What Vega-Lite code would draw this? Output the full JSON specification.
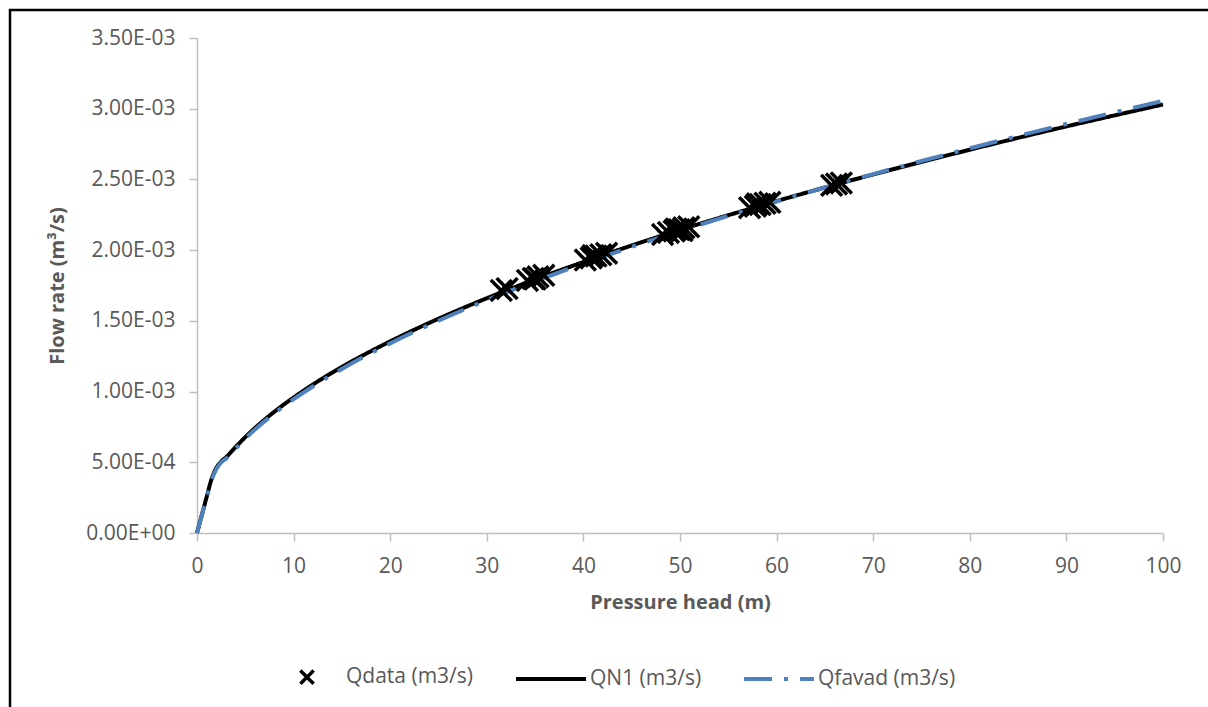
{
  "$schema": "https://vega.github.io/schema/vega-lite/v6.json",
  "usermeta": {"embedOptions": {"actions": false}},
  "width": 1205,
  "height": 705,
  "autosize": {"type": "none"},
  "padding": {"left": 10, "top": 10, "right": 0, "bottom": 0},
  "background": "white",
  "config": {
    "font": "Open Sans",
    "view": {"stroke": "black", "strokeWidth": 2.5},
    "axis": {
      "grid": false,
      "domainColor": "#bfbfbf",
      "domainWidth": 1.5,
      "tickColor": "#bfbfbf",
      "tickWidth": 1.5,
      "tickSize": 8,
      "labelFont": "Open Sans",
      "labelFontSize": 21,
      "labelColor": "#595959",
      "titleFont": "Open Sans",
      "titleFontSize": 20,
      "titleFontWeight": "bold",
      "titleColor": "#595959"
    },
    "legend": {
      "orient": "none",
      "legendX": 260,
      "legendY": 630,
      "direction": "horizontal",
      "columns": 3,
      "padding": 0,
      "columnPadding": 34,
      "labelFont": "Open Sans",
      "labelFontSize": 21,
      "labelColor": "#595959",
      "labelOffset": 2,
      "symbolSize": 4900,
      "symbolFillColor": "transparent",
      "title": null
    }
  },
  "datasets": {
    "qn1": [
      {"h": 0, "q": 0, "series": "QN1 (m3/s)"},
      {"h": 0.5, "q": 0.000128, "series": "QN1 (m3/s)"},
      {"h": 1, "q": 0.000255, "series": "QN1 (m3/s)"},
      {"h": 1.5, "q": 0.00038, "series": "QN1 (m3/s)"},
      {"h": 2, "q": 0.00046, "series": "QN1 (m3/s)"},
      {"h": 2.5, "q": 0.000505, "series": "QN1 (m3/s)"},
      {"h": 3, "q": 0.000535, "series": "QN1 (m3/s)"},
      {"h": 4, "q": 0.000608, "series": "QN1 (m3/s)"},
      {"h": 5, "q": 0.000678, "series": "QN1 (m3/s)"},
      {"h": 6, "q": 0.000742, "series": "QN1 (m3/s)"},
      {"h": 8, "q": 0.000857, "series": "QN1 (m3/s)"},
      {"h": 10, "q": 0.000958, "series": "QN1 (m3/s)"},
      {"h": 12, "q": 0.00105, "series": "QN1 (m3/s)"},
      {"h": 15, "q": 0.001174, "series": "QN1 (m3/s)"},
      {"h": 20, "q": 0.001355, "series": "QN1 (m3/s)"},
      {"h": 25, "q": 0.001515, "series": "QN1 (m3/s)"},
      {"h": 30, "q": 0.00166, "series": "QN1 (m3/s)"},
      {"h": 35, "q": 0.001793, "series": "QN1 (m3/s)"},
      {"h": 40, "q": 0.001916, "series": "QN1 (m3/s)"},
      {"h": 45, "q": 0.002033, "series": "QN1 (m3/s)"},
      {"h": 50, "q": 0.002143, "series": "QN1 (m3/s)"},
      {"h": 55, "q": 0.002247, "series": "QN1 (m3/s)"},
      {"h": 60, "q": 0.002347, "series": "QN1 (m3/s)"},
      {"h": 65, "q": 0.002443, "series": "QN1 (m3/s)"},
      {"h": 70, "q": 0.002535, "series": "QN1 (m3/s)"},
      {"h": 75, "q": 0.002624, "series": "QN1 (m3/s)"},
      {"h": 80, "q": 0.00271, "series": "QN1 (m3/s)"},
      {"h": 85, "q": 0.002794, "series": "QN1 (m3/s)"},
      {"h": 90, "q": 0.002875, "series": "QN1 (m3/s)"},
      {"h": 95, "q": 0.002953, "series": "QN1 (m3/s)"},
      {"h": 100, "q": 0.00303, "series": "QN1 (m3/s)"}
    ],
    "qfavad": [
      {"h": 0, "q": 0, "series": "Qfavad (m3/s)"},
      {"h": 0.5, "q": 0.000125, "series": "Qfavad (m3/s)"},
      {"h": 1, "q": 0.00025, "series": "Qfavad (m3/s)"},
      {"h": 1.5, "q": 0.000372, "series": "Qfavad (m3/s)"},
      {"h": 2, "q": 0.000452, "series": "Qfavad (m3/s)"},
      {"h": 2.5, "q": 0.0005, "series": "Qfavad (m3/s)"},
      {"h": 3, "q": 0.000525, "series": "Qfavad (m3/s)"},
      {"h": 4, "q": 0.000597, "series": "Qfavad (m3/s)"},
      {"h": 5, "q": 0.000668, "series": "Qfavad (m3/s)"},
      {"h": 6, "q": 0.000732, "series": "Qfavad (m3/s)"},
      {"h": 8, "q": 0.000845, "series": "Qfavad (m3/s)"},
      {"h": 10, "q": 0.000946, "series": "Qfavad (m3/s)"},
      {"h": 12, "q": 0.001036, "series": "Qfavad (m3/s)"},
      {"h": 15, "q": 0.00116, "series": "Qfavad (m3/s)"},
      {"h": 20, "q": 0.001341, "series": "Qfavad (m3/s)"},
      {"h": 25, "q": 0.001501, "series": "Qfavad (m3/s)"},
      {"h": 30, "q": 0.001646, "series": "Qfavad (m3/s)"},
      {"h": 35, "q": 0.00178, "series": "Qfavad (m3/s)"},
      {"h": 40, "q": 0.001905, "series": "Qfavad (m3/s)"},
      {"h": 45, "q": 0.002023, "series": "Qfavad (m3/s)"},
      {"h": 50, "q": 0.002135, "series": "Qfavad (m3/s)"},
      {"h": 55, "q": 0.002242, "series": "Qfavad (m3/s)"},
      {"h": 60, "q": 0.002344, "series": "Qfavad (m3/s)"},
      {"h": 65, "q": 0.002443, "series": "Qfavad (m3/s)"},
      {"h": 70, "q": 0.002538, "series": "Qfavad (m3/s)"},
      {"h": 75, "q": 0.00263, "series": "Qfavad (m3/s)"},
      {"h": 80, "q": 0.00272, "series": "Qfavad (m3/s)"},
      {"h": 85, "q": 0.002807, "series": "Qfavad (m3/s)"},
      {"h": 90, "q": 0.002892, "series": "Qfavad (m3/s)"},
      {"h": 95, "q": 0.002975, "series": "Qfavad (m3/s)"},
      {"h": 100, "q": 0.003055, "series": "Qfavad (m3/s)"}
    ],
    "qdata": [
      {"h": 31.5, "q": 0.001715, "series": "Qdata (m3/s)"},
      {"h": 32.1, "q": 0.001728, "series": "Qdata (m3/s)"},
      {"h": 34.2, "q": 0.001786, "series": "Qdata (m3/s)"},
      {"h": 34.8, "q": 0.0018, "series": "Qdata (m3/s)"},
      {"h": 35.0, "q": 0.001795, "series": "Qdata (m3/s)"},
      {"h": 35.3, "q": 0.001812, "series": "Qdata (m3/s)"},
      {"h": 35.9, "q": 0.001822, "series": "Qdata (m3/s)"},
      {"h": 40.2, "q": 0.00193, "series": "Qdata (m3/s)"},
      {"h": 40.8, "q": 0.001945, "series": "Qdata (m3/s)"},
      {"h": 41.0, "q": 0.001962, "series": "Qdata (m3/s)"},
      {"h": 41.3, "q": 0.001958, "series": "Qdata (m3/s)"},
      {"h": 41.8, "q": 0.001968, "series": "Qdata (m3/s)"},
      {"h": 42.4, "q": 0.001978, "series": "Qdata (m3/s)"},
      {"h": 48.2, "q": 0.00211, "series": "Qdata (m3/s)"},
      {"h": 48.8, "q": 0.002125, "series": "Qdata (m3/s)"},
      {"h": 49.4, "q": 0.002135, "series": "Qdata (m3/s)"},
      {"h": 49.6, "q": 0.00215, "series": "Qdata (m3/s)"},
      {"h": 49.9, "q": 0.002145, "series": "Qdata (m3/s)"},
      {"h": 50.2, "q": 0.002138, "series": "Qdata (m3/s)"},
      {"h": 50.4, "q": 0.002158, "series": "Qdata (m3/s)"},
      {"h": 50.9, "q": 0.002165, "series": "Qdata (m3/s)"},
      {"h": 57.2, "q": 0.0023, "series": "Qdata (m3/s)"},
      {"h": 57.8, "q": 0.00231, "series": "Qdata (m3/s)"},
      {"h": 58.0, "q": 0.002328, "series": "Qdata (m3/s)"},
      {"h": 58.3, "q": 0.002322, "series": "Qdata (m3/s)"},
      {"h": 58.8, "q": 0.002331, "series": "Qdata (m3/s)"},
      {"h": 59.3, "q": 0.002338, "series": "Qdata (m3/s)"},
      {"h": 65.7, "q": 0.002458, "series": "Qdata (m3/s)"},
      {"h": 66.2, "q": 0.002468, "series": "Qdata (m3/s)"},
      {"h": 66.7, "q": 0.002475, "series": "Qdata (m3/s)"}
    ]
  },
  "encoding": {
    "x": {
      "field": "h",
      "type": "quantitative",
      "scale": {"domain": [0, 100], "range": [187, 1153], "nice": false, "zero": true},
      "axis": {
        "title": "Pressure head (m)",
        "orient": "bottom",
        "offset": -182,
        "values": [0, 10, 20, 30, 40, 50, 60, 70, 80, 90, 100],
        "labelPadding": 14,
        "titlePadding": 16,
        "labelFlush": false,
        "labelOverlap": false
      }
    },
    "y": {
      "field": "q",
      "type": "quantitative",
      "scale": {"domain": [0, 0.0035], "range": [523, 28], "nice": false, "zero": true},
      "axis": {
        "title": "Flow rate (m³/s)",
        "orient": "left",
        "offset": -187,
        "values": [0, 0.0005, 0.001, 0.0015, 0.002, 0.0025, 0.003, 0.0035],
        "labelPadding": 14,
        "titlePadding": 18,
        "labelFlush": false,
        "labelOverlap": false,
        "labelExpr": "datum.value == 0 ? '0.00E+00' : (datum.value < 0.00099 ? format(datum.value * 10000, '.2f') + 'E-04' : format(datum.value * 1000, '.2f') + 'E-03')"
      }
    },
    "color": {
      "field": "series",
      "type": "nominal",
      "scale": {
        "domain": ["Qdata (m3/s)", "QN1 (m3/s)", "Qfavad (m3/s)"],
        "range": ["#000000", "#000000", "#4f81bd"]
      },
      "legend": {"title": null}
    },
    "strokeDash": {
      "field": "series",
      "type": "nominal",
      "scale": {
        "domain": ["Qdata (m3/s)", "QN1 (m3/s)", "Qfavad (m3/s)"],
        "range": [[1, 0], [1, 0], [28, 12, 4, 12]]
      },
      "legend": {"title": null}
    },
    "strokeWidth": {
      "field": "series",
      "type": "ordinal",
      "scale": {
        "type": "ordinal",
        "domain": ["Qdata (m3/s)", "QN1 (m3/s)", "Qfavad (m3/s)"],
        "range": [3.5, 4, 4]
      },
      "legend": {"title": null}
    }
  },
  "layer": [
    {
      "data": {"name": "qn1"},
      "mark": {"type": "line", "interpolate": "monotone", "strokeCap": "butt"}
    },
    {
      "data": {"name": "qfavad"},
      "mark": {"type": "line", "interpolate": "monotone", "strokeCap": "butt"}
    },
    {
      "data": {"name": "qdata"},
      "mark": {"type": "point", "filled": false, "opacity": 1, "size": 12200},
      "encoding": {
        "shape": {
          "field": "series",
          "type": "nominal",
          "scale": {
            "domain": ["Qdata (m3/s)", "QN1 (m3/s)", "Qfavad (m3/s)"],
            "range": ["M-0.19,-0.19L0.19,0.19M-0.19,0.19L0.19,-0.19", "stroke", "stroke"]
          },
          "legend": {"title": null}
        }
      }
    }
  ]
}
